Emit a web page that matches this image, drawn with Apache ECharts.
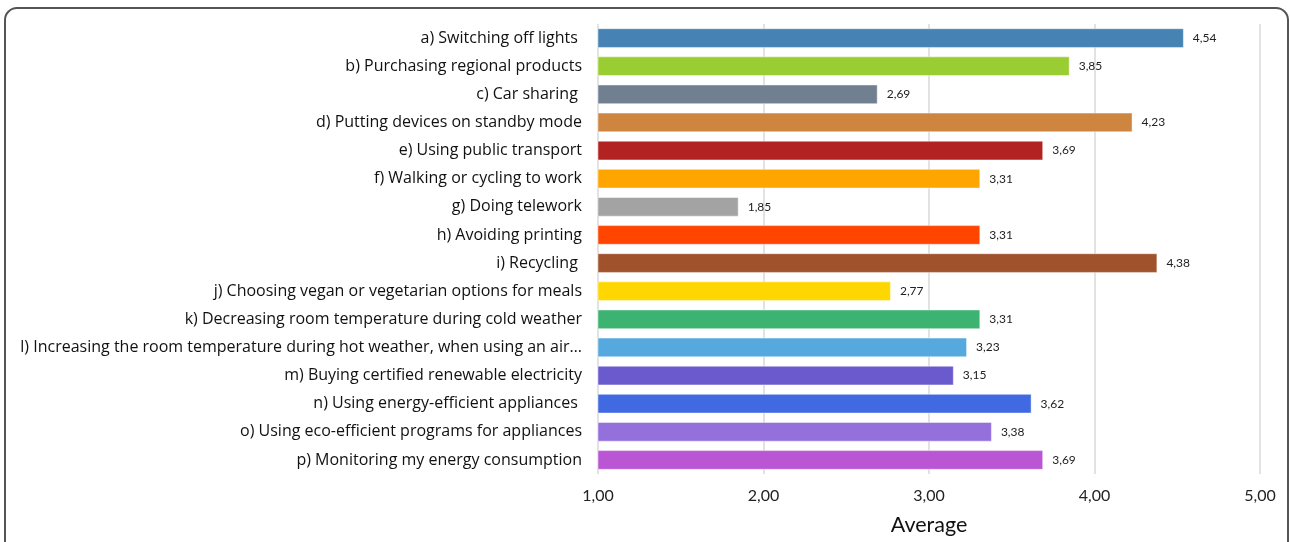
<!DOCTYPE html>
<html>
<head>
<meta charset="utf-8">
<script src="https://cdn.jsdelivr.net/npm/echarts@6/dist/echarts.min.js"></script>
<style>
html,body{margin:0;padding:0;background:#fff;overflow:hidden;}
#chart{width:100vw;height:100vh;}
</style>
</head>
<body>
<div id="chart"></div>
<script>
const categories = [
  "a) Switching off lights ",
  "b) Purchasing regional products",
  "c) Car sharing ",
  "d) Putting devices on standby mode",
  "e) Using public transport",
  "f) Walking or cycling to work",
  "g) Doing telework",
  "h) Avoiding printing",
  "i) Recycling ",
  "j) Choosing vegan or vegetarian options for meals",
  "k) Decreasing room temperature during cold weather",
  "l) Increasing the room temperature during hot weather, when using an air…",
  "m) Buying certified renewable electricity",
  "n) Using energy-efficient appliances ",
  "o) Using eco-efficient programs for appliances",
  "p) Monitoring my energy consumption"
];
const values = [4.54, 3.85, 2.69, 4.23, 3.69, 3.31, 1.85, 3.31, 4.38, 2.77, 3.31, 3.23, 3.15, 3.62, 3.38, 3.69];
const barColors = ["#4682B4", "#9ACD32", "#708090", "#CD853F", "#B22222", "#FFA500", "#A3A3A3", "#FF4500",
  "#A0522D", "#FFD700", "#3CB371", "#55A9DF", "#6A5ACD", "#4169E1", "#9370DB", "#BA55D3"];
const xTicks = [1, 2, 3, 4, 5];
const axisTitle = "Average";

const fmt = v => v.toFixed(2).replace('.', ',');
const font = 'Lato, "Open Sans", sans-serif';
const catFont = '"Open Sans", "Noto Sans", sans-serif';

const chart = echarts.init(document.getElementById('chart'), null, {renderer: 'canvas'});
chart.setOption({
  animation: false,
  backgroundColor: '#fff',
  textStyle: {fontFamily: font},
  graphic: [{
    type: 'rect',
    shape: {x: 5, y: 8, width: 1283, height: 600, r: 12},
    style: {fill: 'none', stroke: '#555', lineWidth: 2},
    silent: true,
    z: 100
  }],
  grid: {left: 598, width: 662, top: 24, height: 450},
  xAxis: {
    type: 'value',
    min: xTicks[0],
    max: xTicks[xTicks.length - 1],
    interval: 1,
    axisLine: {show: false},
    axisTick: {show: false},
    splitLine: {show: true, lineStyle: {color: '#D9D9D9', width: 1.5}},
    axisLabel: {formatter: v => fmt(v), fontSize: 16, color: '#222', margin: 14, fontFamily: font},
    name: axisTitle,
    nameLocation: 'middle',
    nameGap: 40,
    nameTextStyle: {fontSize: 21.5, color: '#111', fontFamily: font}
  },
  yAxis: {
    type: 'category',
    data: categories,
    inverse: true,
    axisLine: {show: false},
    axisTick: {show: false},
    axisLabel: {fontSize: 16, color: '#111', margin: 16, fontFamily: catFont}
  },
  series: [{
    type: 'bar',
    data: values.map((v, i) => ({value: v, itemStyle: {color: barColors[i]}})),
    barCategoryGap: '30%',
    itemStyle: {borderColor: 'rgba(255,255,255,0.45)', borderWidth: 1},
    label: {
      show: true,
      position: 'right',
      distance: 9,
      formatter: p => fmt(p.value),
      fontSize: 12,
      color: '#222',
      fontFamily: font
    }
  }]
});
</script>
</body>
</html>
